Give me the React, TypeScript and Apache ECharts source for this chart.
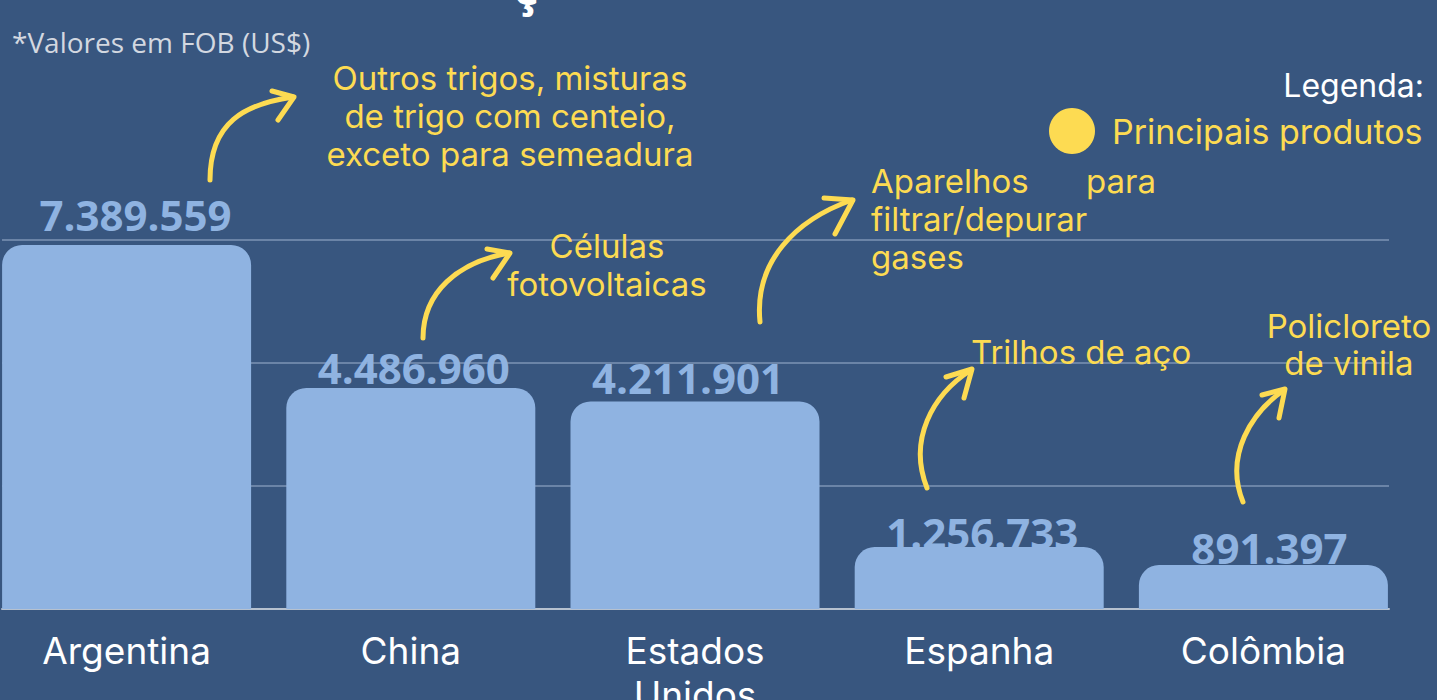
import React, { useEffect, useRef } from 'react';
import * as echarts from 'echarts';

// ---- data ----
const categories = ['Argentina', 'China', 'Estados Unidos', 'Espanha', 'Colômbia'];
const values = [7389559, 4486960, 4211901, 1256733, 891397];
const yMin = 0;
const yMax = 7500000;
const yInterval = 2500000;
const noteText = '*Valores em FOB (US$)';
const legendTitle = 'Legenda:';
const legendItem = 'Principais produtos';
const productNotes = [
  'Outros trigos, misturas\nde trigo com centeio,\nexceto para semeadura',
  'Células\nfotovoltaicas',
  'filtrar/depurar\ngases',
  'Trilhos de aço',
  'Policloreto\nde vinila',
];

// ---- styling / layout (not data) ----
const BG = '#38567f';
const BAR = '#8fb3e1';
const YELLOW = '#fddb52';
const GRIDLINE = '#6b84a7';
const labelNudge = [
  [9, -9],
  [3, 1],
  [-7, -3],
  [3, 6],
  [6, 3],
];

const fmt = (v: number) => String(v).replace(/\B(?=(\d{3})+(?!\d))/g, '.');

type Arrow = { p: number[]; head: number[][] };
const arrows: Arrow[] = [
  { p: [210, 180, 210, 122, 245, 104, 293, 97], head: [[272, 91], [294, 97], [278, 120]] },
  { p: [423, 338, 423, 292, 458, 262, 509, 253], head: [[487, 249], [510, 253], [493, 278]] },
  { p: [760, 322, 754, 262, 795, 220, 852, 200], head: [[824, 198], [853, 200], [835, 234]] },
  { p: [927, 488, 908, 440, 932, 395, 971, 370], head: [[946, 377], [972, 369], [964, 398]] },
  { p: [1243, 502, 1224, 455, 1252, 412, 1284, 390], head: [[1262, 395], [1285, 389], [1279, 418]] },
];

export default function App() {
  const ref = useRef<HTMLDivElement>(null);
  useEffect(() => {
    if (!ref.current) return;
    const chart = echarts.init(ref.current, undefined, { renderer: 'svg' });

    const arrowEls: any[] = [];
    arrows.forEach((a) => {
      arrowEls.push({
        type: 'bezierCurve',
        shape: { x1: a.p[0], y1: a.p[1], cpx1: a.p[2], cpy1: a.p[3], cpx2: a.p[4], cpy2: a.p[5], x2: a.p[6], y2: a.p[7] },
        style: { stroke: YELLOW, lineWidth: 5, fill: null, lineCap: 'round' },
        z: 10,
      });
      arrowEls.push({
        type: 'polyline',
        shape: { points: a.head },
        style: { stroke: YELLOW, lineWidth: 5, fill: null, lineCap: 'round', lineJoin: 'round' },
        z: 10,
      });
    });

    const yText = (text: string, x: number, y: number, align: string, size = 33, lh = 38) => ({
      type: 'text',
      x,
      y,
      z: 10,
      style: {
        text,
        fill: YELLOW,
        fontFamily: 'Inter',
        fontSize: size,
        lineHeight: lh,
        textAlign: align,
        textVerticalAlign: 'top',
      },
    });

    chart.setOption({
      animation: false,
      backgroundColor: BG,
      grid: [
        { left: 2, width: 1387, top: 239.5, height: 369.5, outerBoundsMode: 'none', containLabel: false },
        { left: -15.5, width: 1421, top: 239.5, height: 369.5, outerBoundsMode: 'none', containLabel: false },
      ],
      xAxis: [
        {
          gridIndex: 0,
          type: 'category',
          data: categories,
          axisLine: { show: true, lineStyle: { color: '#b6c1cf', width: 2 } },
          axisTick: { show: false },
          axisLabel: { show: false },
        },
        {
          gridIndex: 1,
          type: 'category',
          data: categories,
          axisLine: { show: false },
          axisTick: { show: false },
          axisLabel: {
            color: '#ffffff',
            fontFamily: 'Inter',
            fontSize: 37,
            lineHeight: 44,
            margin: 19,
            formatter: (v: string) => v.replace(' ', '\n'),
          },
        },
      ],
      yAxis: [
        {
          gridIndex: 0,
          type: 'value',
          min: yMin,
          max: yMax,
          interval: yInterval,
          axisLabel: { show: false },
          axisLine: { show: false },
          axisTick: { show: false },
          splitLine: { show: true, lineStyle: { color: GRIDLINE, width: 2 } },
        },
        {
          gridIndex: 1,
          type: 'value',
          min: yMin,
          max: yMax,
          interval: yInterval,
          show: false,
          splitLine: { show: false },
        },
      ],
      series: [
        {
          type: 'bar',
          xAxisIndex: 1,
          yAxisIndex: 1,
          barWidth: 249,
          data: values.map((v, i) => ({ value: v, label: { offset: labelNudge[i] } })),
          itemStyle: { color: BAR, borderRadius: [20, 20, 0, 0] },
          label: {
            show: true,
            position: 'top',
            distance: 0,
            color: BAR,
            fontFamily: 'Open Sans',
            fontWeight: 'bold',
            fontSize: 42,
            formatter: (p: any) => fmt(p.value),
          },
        },
      ],
      graphic: [
        {
          type: 'text',
          x: 526,
          y: -14,
          style: { text: 'ç', fill: '#ffffff', fontFamily: 'Open Sans', fontWeight: 'bold', fontSize: 48, textAlign: 'center', textVerticalAlign: 'middle' },
        },
        {
          type: 'text',
          x: 12,
          y: 42,
          style: { text: noteText, fill: '#d3d8e0', fontFamily: 'Open Sans', fontSize: 28, textAlign: 'left', textVerticalAlign: 'middle' },
        },
        {
          type: 'text',
          x: 1424,
          y: 85,
          style: { text: legendTitle, fill: '#ffffff', fontFamily: 'Inter', fontSize: 32, textAlign: 'right', textVerticalAlign: 'middle' },
        },
        {
          type: 'circle',
          shape: { cx: 1072, cy: 131, r: 23 },
          style: { fill: YELLOW },
        },
        {
          type: 'text',
          x: 1112,
          y: 131,
          style: { text: legendItem, fill: YELLOW, fontFamily: 'Inter', fontSize: 34, textAlign: 'left', textVerticalAlign: 'middle' },
        },
        yText(productNotes[0], 510, 59, 'center'),
        yText(productNotes[1], 607, 227, 'center'),
        yText('Aparelhos', 871, 162, 'left'),
        yText('para', 1086, 162, 'left'),
        yText(productNotes[2], 871, 200, 'left'),
        yText(productNotes[3], 971, 333, 'left', 33),
        yText(productNotes[4], 1349, 307, 'center', 33, 37),
        ...arrowEls,
      ],
    });
    return () => chart.dispose();
  }, []);
  return (
    <div
      ref={ref}
      style={{ position: 'fixed', left: 0, top: 0, width: 1437, height: 700, background: BG }}
    />
  );
}
